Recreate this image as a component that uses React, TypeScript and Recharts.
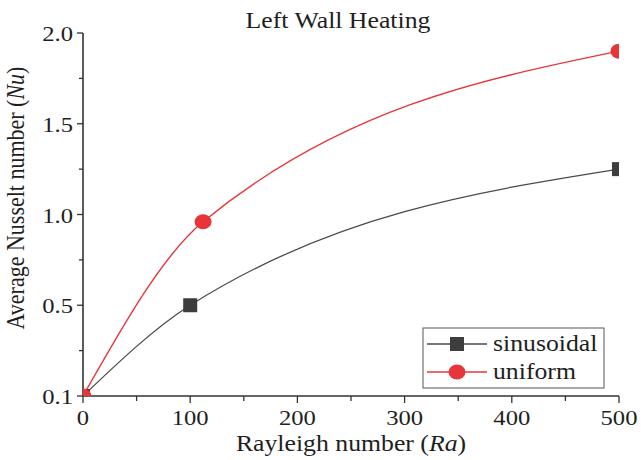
import { LineChart, Line, XAxis, YAxis } from "recharts";

const raTicks = [0, 50, 100, 150, 200, 250, 300, 350, 400, 450, 500];
const nuTicks = [0, 0.25, 0.5, 0.75, 1, 1.25, 1.5, 1.75, 2];
const nuLabels: Record<string, string> = { "0": "0.1", "0.5": "0.5", "1": "1.0", "1.5": "1.5", "2": "2.0" };

const sinusoidalRa = [0, 100, 500];
const sinusoidalNu = [0, 0.5, 1.25];
const uniformRa = [0, 112, 500];
const uniformNu = [0, 0.96, 1.9];

const seriesNames = ["sinusoidal", "uniform"];

const sinusoidal = sinusoidalRa.map((ra, i) => ({ ra, nu: sinusoidalNu[i] }));
const uniform = uniformRa.map((ra, i) => ({ ra, nu: uniformNu[i] }));

const FONT = "'Liberation Serif', 'Times New Roman', serif";
const INK = "#1e1e1e";
const AXIS = "#333";
const RED = "#e8353a";
const GRAY = "#4a4a4a";
const SQUARE = "#3d3d3d";
const STRETCH = 1.12; // the source figure is a bit wide

const W = 641;
const H = 460;
const M = { top: 33, right: 22, bottom: 64, left: 83 };
const PLOT = { x: M.left, y: M.top, w: W - M.right - M.left, h: H - M.bottom - M.top };

// text drawn slightly wider than the font, like the original figure
function WideText({ x, y, anchor = "start", size = 22, children }: any) {
  return (
    <text
      transform={`translate(${x},${y}) scale(${STRETCH},1)`}
      textAnchor={anchor} fontFamily={FONT} fontSize={size} fill={INK}
    >
      {children}
    </text>
  );
}

function BottomTick({ x, y, payload }: any) {
  const major = payload.value % 100 === 0;
  return (
    <g>
      <line x1={x} x2={x} y1={y} y2={y + (major ? 7 : 5)} stroke={AXIS} strokeWidth={1.3} />
      {major && <WideText x={x} y={y + 29} anchor="middle">{payload.value}</WideText>}
    </g>
  );
}

function TopTick({ x, y, payload }: any) {
  const major = payload.value % 100 === 0;
  return <line x1={x} x2={x} y1={y} y2={y + (major ? 6 : 3)} stroke={AXIS} strokeWidth={1.3} />;
}

function LeftTick({ x, y, payload }: any) {
  const label = nuLabels[String(payload.value)];
  return (
    <g>
      <line x1={x} x2={x - (label ? 6 : 4)} y1={y} y2={y} stroke={AXIS} strokeWidth={1.3} />
      {label && <WideText x={x - 10} y={y + 8} anchor="end">{label}</WideText>}
    </g>
  );
}

function RightTick({ x, y, payload }: any) {
  const major = nuLabels[String(payload.value)] !== undefined;
  return <line x1={x} x2={x - (major ? 6 : 3)} y1={y} y2={y} stroke={AXIS} strokeWidth={1.3} />;
}

// markers are cut off at the frame, as in the original: a nested svg viewport clips them
function InPlot({ children }: any) {
  return (
    <svg x={PLOT.x} y={PLOT.y} width={PLOT.w} height={PLOT.h} overflow="hidden">
      <g transform={`translate(${-PLOT.x},${-PLOT.y})`}>{children}</g>
    </svg>
  );
}

function SquareDot({ cx, cy, index }: any) {
  return (
    <InPlot key={`s-${index}`}>
      <rect x={cx - 7} y={cy - 7} width={14} height={14} fill={SQUARE} />
    </InPlot>
  );
}

function CircleDot({ cx, cy, index }: any) {
  return (
    <InPlot key={`c-${index}`}>
      <ellipse cx={cx} cy={cy} rx={8.5} ry={7.5} fill={RED} />
    </InPlot>
  );
}

export default function App() {
  const plotB = PLOT.y + PLOT.h;
  const cx = PLOT.x + PLOT.w / 2;
  return (
    <div style={{ position: "absolute", left: 0, top: 0, width: W, height: H, background: "#fff" }}>
      <LineChart width={W} height={H} margin={{ top: M.top, right: M.right, bottom: 0, left: 0 }}>
        <XAxis
          xAxisId={0} type="number" dataKey="ra" domain={[0, 500]} ticks={raTicks} allowDataOverflow
          height={M.bottom} tickSize={0} tickMargin={0} tickLine={false} tick={<BottomTick />}
          axisLine={{ stroke: AXIS, strokeWidth: 1.6 }} interval={0}
        />
        <XAxis
          xAxisId="top" orientation="top" type="number" dataKey="ra" domain={[0, 500]} ticks={raTicks}
          height={0} tickSize={0} tickMargin={0} tickLine={false} tick={<TopTick />}
          axisLine={{ stroke: AXIS, strokeWidth: 1.6 }} interval={0}
        />
        <YAxis
          yAxisId={0} type="number" domain={[0, 2]} ticks={nuTicks} width={M.left}
          tickSize={0} tickMargin={0} tickLine={false} tick={<LeftTick />}
          axisLine={{ stroke: AXIS, strokeWidth: 1.6 }} interval={0}
        />
        <YAxis
          yAxisId="right" orientation="right" type="number" domain={[0, 2]} ticks={nuTicks} width={0}
          tickSize={0} tickMargin={0} tickLine={false} tick={<RightTick />}
          axisLine={{ stroke: AXIS, strokeWidth: 1.6 }} interval={0}
        />
        <Line
          data={sinusoidal} dataKey="nu" name={seriesNames[0]} type="monotone" stroke={GRAY}
          strokeWidth={1.3} dot={<SquareDot />} activeDot={false} isAnimationActive={false}
        />
        <Line
          data={uniform} dataKey="nu" name={seriesNames[1]} type="monotone" stroke={RED}
          strokeWidth={1.4} dot={<CircleDot />} activeDot={false} isAnimationActive={false}
        />

        <WideText x={338} y={28} anchor="middle" size={23}>Left Wall Heating</WideText>
        <WideText x={cx} y={plotB + 55} anchor="middle" size={23}>
          Rayleigh number (<tspan fontStyle="italic">Ra</tspan>)
        </WideText>
        <text
          x={0} y={0} transform="translate(24, 198) rotate(-90) scale(1,1.12)" textAnchor="middle"
          fontFamily={FONT} fontSize={22} fill={INK}
        >
          Average Nusselt number (<tspan fontStyle="italic">Nu</tspan>)
        </text>

        <g>
          <rect x={423} y={328} width={181} height={60} fill="#fff" stroke="#555" strokeWidth={1} />
          <line x1={427} x2={487} y1={344} y2={344} stroke={GRAY} strokeWidth={1.3} />
          <rect x={450} y={337} width={14} height={14} fill={SQUARE} />
          <WideText x={493} y={351} size={23}>{seriesNames[0]}</WideText>
          <line x1={427} x2={487} y1={372} y2={372} stroke={RED} strokeWidth={1.4} />
          <ellipse cx={457} cy={372} rx={8.5} ry={7.5} fill={RED} />
          <WideText x={493} y={379} size={23}>{seriesNames[1]}</WideText>
        </g>
      </LineChart>
    </div>
  );
}
